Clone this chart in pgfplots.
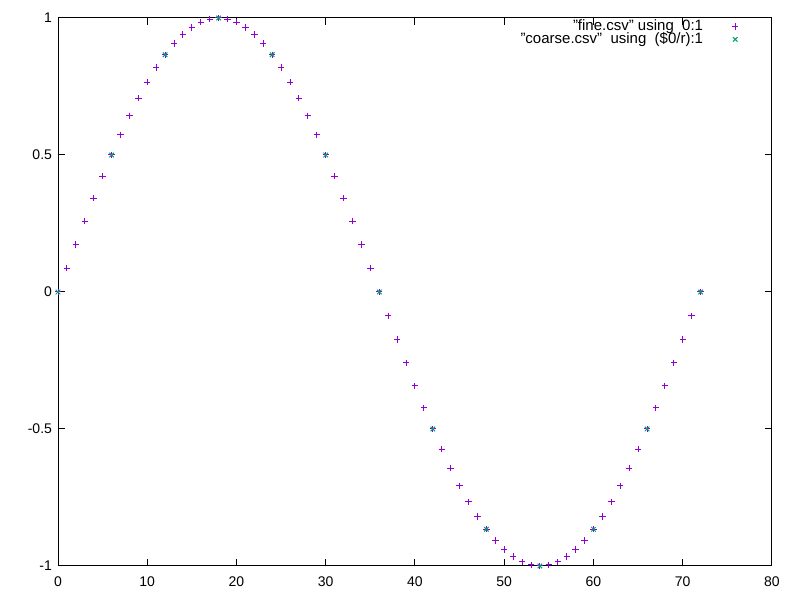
\documentclass[border=0pt]{standalone}
\usepackage{fontspec}
\setmainfont{Liberation Sans}[Ligatures={NoCommon}]
\usepackage{pgfplots}
\pgfplotsset{compat=1.18}
\definecolor{gpurple}{HTML}{9400D3}
\definecolor{ggreen}{HTML}{009E73}
\begin{document}
\fontsize{7}{8.4}\selectfont
\begin{tikzpicture}
\begin{axis}[
  scale only axis,
  width=357pt, height=274pt,
  xmin=0, xmax=80, ymin=-1, ymax=1,
  xtick={0,10,20,30,40,50,60,70,80},
  xticklabels={0,10,20,30,40,50,60,70,80},
  ytick={-1,-0.5,0,0.5,1},
  yticklabels={-1,-0.5,0,0.5,1},
  tick align=inside,
  major tick length=3.5pt,
  minor tick num=0,
  axis line style={line width=0.5pt},
  every tick/.style={black,line width=0.5pt},
  tick label style={font=\fontsize{7}{8.4}\selectfont},
  xticklabel style={yshift=-3pt},
  yticklabel style={xshift=-0.5pt},
  legend style={draw=none, fill=none, at={(rel axis cs:0.962,1.012)}, anchor=north east,
    font=\fontsize{7.5}{9}\selectfont, row sep=-4pt},
  legend plot pos=right,
  legend cell align=right,
]
\addplot[only marks, mark=+, mark size=1.6pt, color=gpurple, line width=0.5pt] coordinates {
(0,0) (1,0.0872) (2,0.1736) (3,0.2588) (4,0.3420) (5,0.4226) (6,0.5) (7,0.5736) (8,0.6428) (9,0.7071)
(10,0.7660) (11,0.8192) (12,0.8660) (13,0.9063) (14,0.9397) (15,0.9659) (16,0.9848) (17,0.9962) (18,1)
(19,0.9962) (20,0.9848) (21,0.9659) (22,0.9397) (23,0.9063) (24,0.8660) (25,0.8192) (26,0.7660) (27,0.7071)
(28,0.6428) (29,0.5736) (30,0.5) (31,0.4226) (32,0.3420) (33,0.2588) (34,0.1736) (35,0.0872) (36,0)
(37,-0.0872) (38,-0.1736) (39,-0.2588) (40,-0.3420) (41,-0.4226) (42,-0.5) (43,-0.5736) (44,-0.6428) (45,-0.7071)
(46,-0.7660) (47,-0.8192) (48,-0.8660) (49,-0.9063) (50,-0.9397) (51,-0.9659) (52,-0.9848) (53,-0.9962) (54,-1)
(55,-0.9962) (56,-0.9848) (57,-0.9659) (58,-0.9397) (59,-0.9063) (60,-0.8660) (61,-0.8192) (62,-0.7660) (63,-0.7071)
(64,-0.6428) (65,-0.5736) (66,-0.5) (67,-0.4226) (68,-0.3420) (69,-0.2588) (70,-0.1736) (71,-0.0872) (72,0)
};
\addlegendentry{"fine.csv" using\ \ 0:1\rule{12.5pt}{0pt}}
\addplot[only marks, mark=x, mark size=1.6pt, color=ggreen, line width=0.5pt] coordinates {
(0,0) (6,0.5) (12,0.8660) (18,1) (24,0.8660) (30,0.5) (36,0) (42,-0.5) (48,-0.8660) (54,-1) (60,-0.8660) (66,-0.5) (72,0)
};
\addlegendentry{"coarse.csv"\ \ using\ \ (\$0/r):1\rule{12.5pt}{0pt}}
\end{axis}
\path (current axis.south west) ++(-29pt,-17pt) rectangle ++(400pt,300pt);
\end{tikzpicture}
\end{document}
